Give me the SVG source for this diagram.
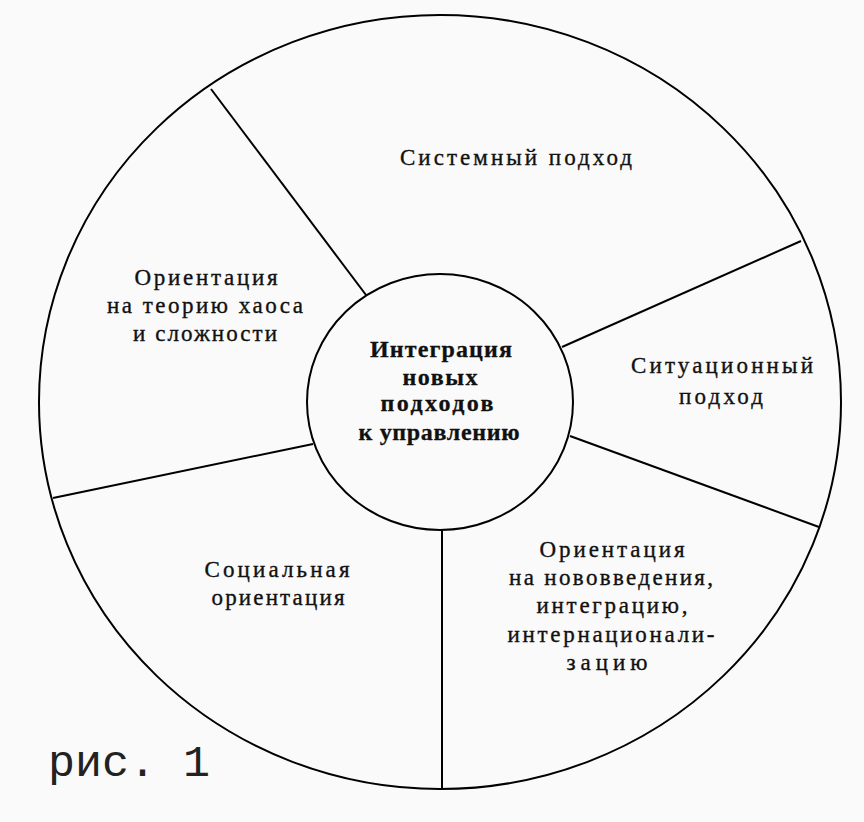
<svg xmlns="http://www.w3.org/2000/svg" width="864" height="822" viewBox="0 0 864 822">
<style>
.ring{fill:none;stroke:#000;stroke-width:2}
.div{stroke:#000;stroke-width:2;fill:none}
.t{font-family:"Liberation Serif","Times New Roman",serif;font-size:23px;fill:#111;stroke:#111;stroke-width:0.35;text-anchor:middle}
.b{font-family:"Liberation Serif","Times New Roman",serif;font-size:24px;font-weight:bold;fill:#111;stroke:#111;stroke-width:0.3;text-anchor:middle}
.cap{font-family:"Liberation Mono","Courier New",monospace;font-size:45px;fill:#222}
</style>
<rect width="864" height="822" fill="#fafafa"/>
<g id="outer">
<ellipse class="ring" cx="440" cy="402" rx="401" ry="387" fill="#fff"/>
</g>
<g id="connectors">
<line class="div" x1="211" y1="89" x2="366" y2="295"/>
<line class="div" x1="801" y1="241" x2="562" y2="347"/>
<line class="div" x1="570" y1="436" x2="819" y2="527"/>
<line class="div" x1="442" y1="530" x2="442" y2="789"/>
<line class="div" x1="53" y1="498" x2="313" y2="444"/>
</g>
<g id="center">
<ellipse class="ring" cx="440" cy="402" rx="133" ry="128" fill="#fff"/>
<text class="b" x="441" y="357" textLength="142" lengthAdjust="spacing">Интеграция</text>
<text class="b" x="440" y="385" textLength="75" lengthAdjust="spacing">новых</text>
<text class="b" x="437" y="411" textLength="113" lengthAdjust="spacing">подходов</text>
<text class="b" x="439" y="440" textLength="161" lengthAdjust="spacing">к управлению</text>
</g>
<g id="system">
<text class="t" x="516" y="165" textLength="232" lengthAdjust="spacing">Системный подход</text>
</g>
<g id="situation">
<text class="t" x="722" y="373" textLength="182" lengthAdjust="spacing">Ситуационный</text>
<text class="t" x="721" y="404" textLength="84" lengthAdjust="spacing">подход</text>
</g>
<g id="innovation">
<text class="t" x="612" y="557" textLength="145" lengthAdjust="spacing">Ориентация</text>
<text class="t" x="611" y="585" textLength="204" lengthAdjust="spacing">на нововведения,</text>
<text class="t" x="612" y="613" textLength="151" lengthAdjust="spacing">интеграцию,</text>
<text class="t" x="611" y="642" textLength="207" lengthAdjust="spacing">интернационали-</text>
<text class="t" x="607" y="670" textLength="81" lengthAdjust="spacing">зацию</text>
</g>
<g id="social">
<text class="t" x="277" y="577" textLength="145" lengthAdjust="spacing">Социальная</text>
<text class="t" x="278" y="605" textLength="133" lengthAdjust="spacing">ориентация</text>
</g>
<g id="chaos">
<text class="t" x="206" y="285" textLength="143" lengthAdjust="spacing">Ориентация</text>
<text class="t" x="205" y="313" textLength="196" lengthAdjust="spacing">на теорию хаоса</text>
<text class="t" x="205" y="341" textLength="144" lengthAdjust="spacing">и сложности</text>
</g>
<text class="cap" x="48" y="776">рис. 1</text>
</svg>
